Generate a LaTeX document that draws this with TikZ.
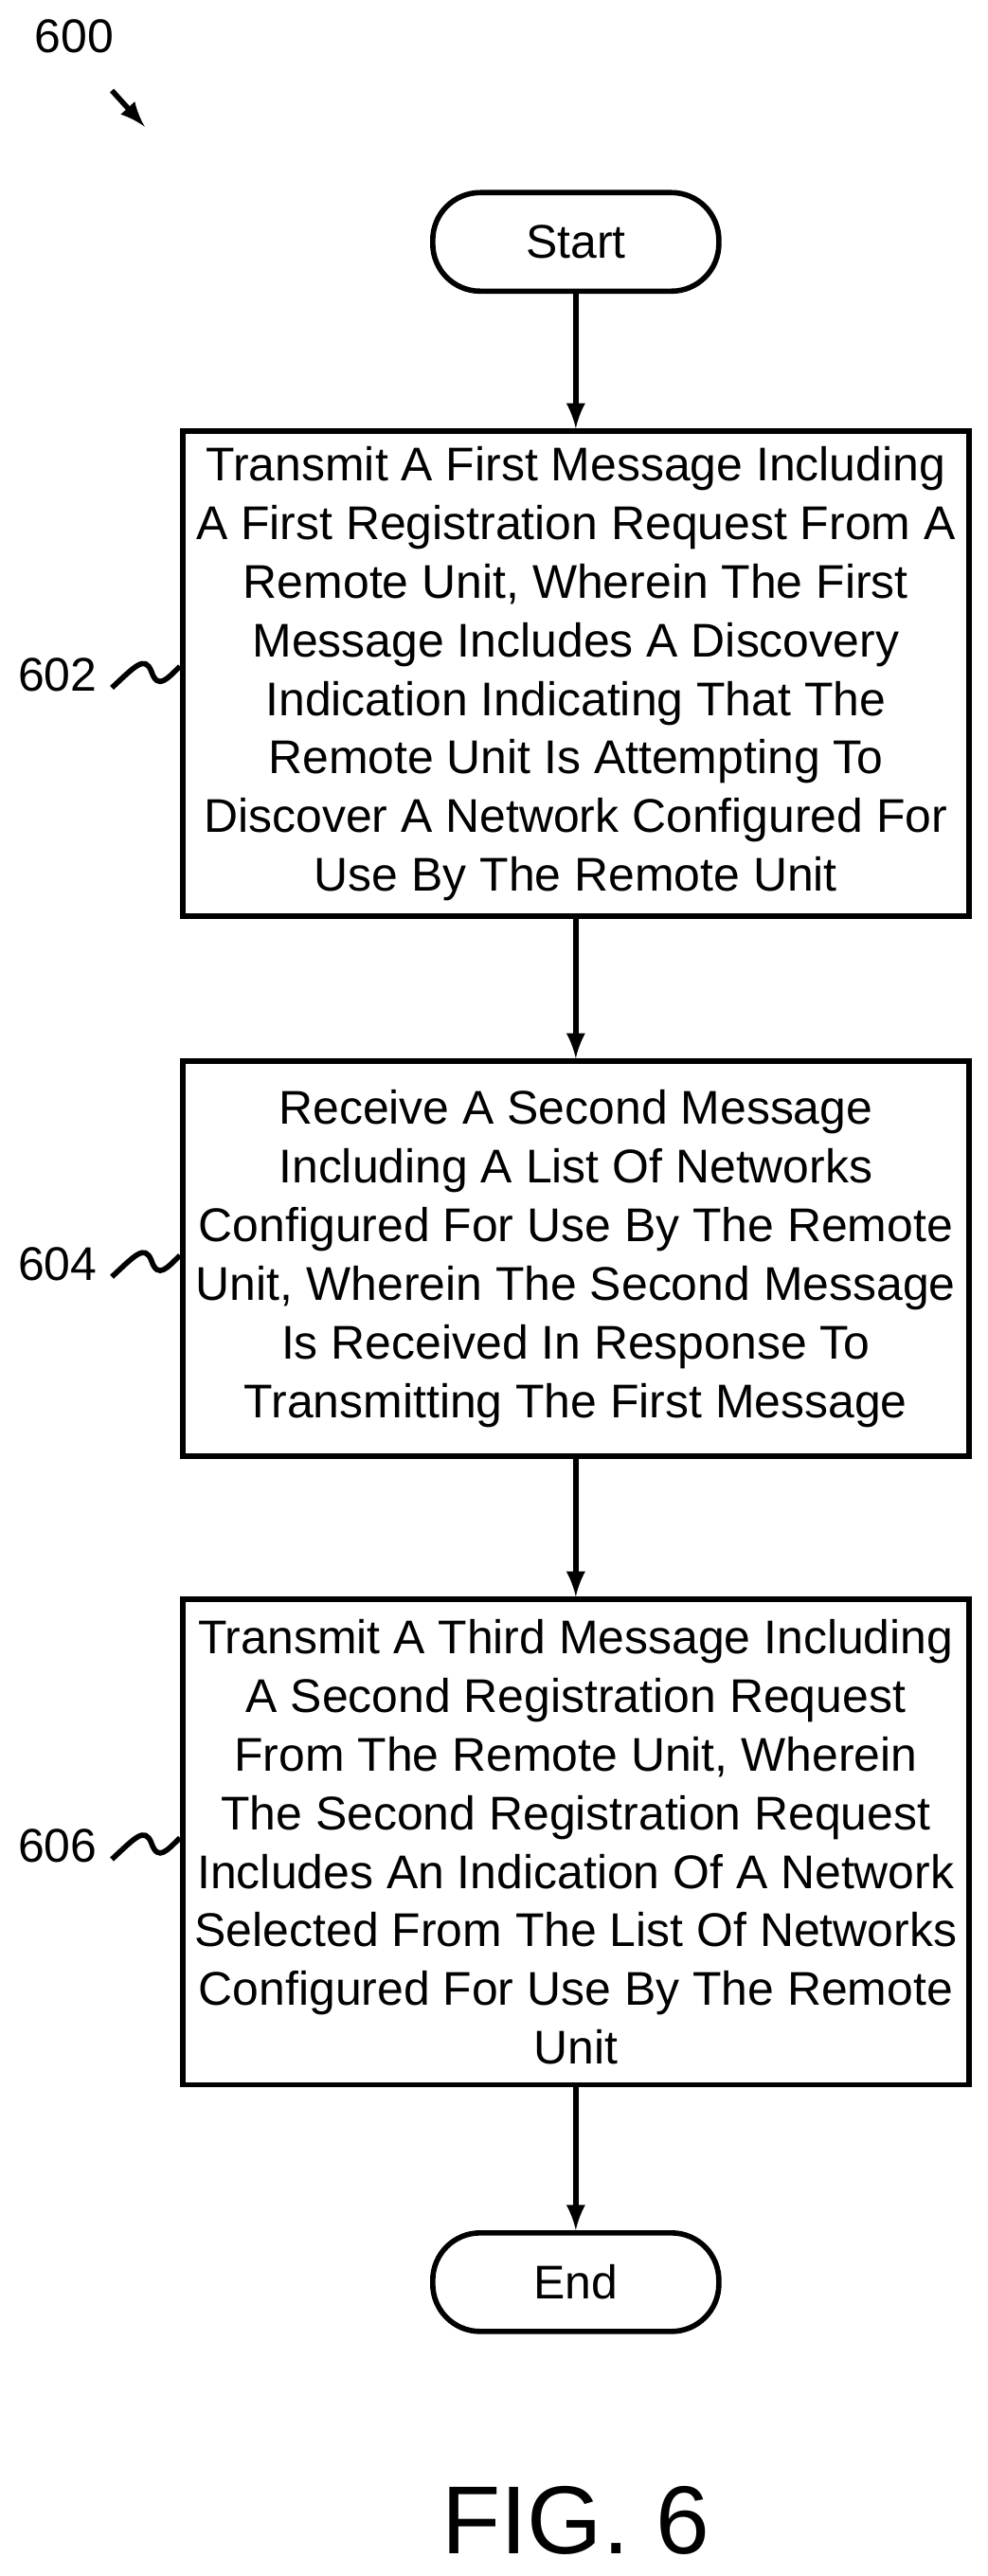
\documentclass[tikz,border=0pt]{standalone}
\usepackage{fontspec}
\setmainfont{Liberation Sans}
\usetikzlibrary{positioning}
\tikzset{
    stepbox/.style={draw, line width=1.6pt, minimum width=8.3cm, align=center, inner sep=2pt,
        font=\fontsize{14.2pt}{17.6pt}\selectfont},
    term/.style={draw, line width=1.6pt, rounded corners=0.5cm, minimum width=3.02cm,
        minimum height=1.04cm, font=\fontsize{14.2pt}{16pt}\selectfont},
    flow/.style={-latex, line width=1.6pt},
    tag/.style={font=\fontsize{14.2pt}{16pt}\selectfont}
}
\begin{document}
\begin{tikzpicture}[x=0.017367cm, y=-0.017367cm]
    \useasboundingbox (0, 0) rectangle (600, 1565.6);

    \node[term] (start) at (350, 147) {Start};
    \node[stepbox, minimum height=5.12cm] (s602) at (350, 409.5) {Transmit A First Message Including\\A First Registration Request From A\\Remote Unit, Wherein The First\\Message Includes A Discovery\\Indication Indicating That The\\Remote Unit Is Attempting To\\Discover A Network Configured For\\Use By The Remote Unit};
    \node[stepbox, minimum height=4.17cm] (s604) at (350, 765) {Receive A Second Message\\Including A List Of Networks\\Configured For Use By The Remote\\Unit, Wherein The Second Message\\Is Received In Response To\\Transmitting The First Message};
    \node[stepbox, minimum height=5.12cm] (s606) at (350, 1119.5) {Transmit A Third Message Including\\A Second Registration Request\\From The Remote Unit, Wherein\\The Second Registration Request\\Includes An Indication Of A Network\\Selected From The List Of Networks\\Configured For Use By The Remote\\Unit};
    \node[term] (end) at (350, 1387) {End};

    \draw[flow] (start) -- (s602);
    \draw[flow] (s602) -- (s604);
    \draw[flow] (s604) -- (s606);
    \draw[flow] (s606) -- (end);

    % reference numerals
    \node[tag] (n600) at (45, 22) {600};
    \coordinate (p600) at (88, 77);
    \draw[-latex, line width=1.6pt] (68, 55) -- (p600);

    \node[tag] (n602) at (35, 410) {602};
    \draw[line width=1.6pt] (68, 418) .. controls (82, 405) and (88, 398) .. (92, 408)
        .. controls (96, 420) and (102, 412) .. (s602.west |- 0, 405);
    \node[tag] (n604) at (35, 768) {604};
    \draw[line width=1.6pt] (68, 776) .. controls (82, 763) and (88, 756) .. (92, 766)
        .. controls (96, 778) and (102, 770) .. (s604.west |- 0, 763);
    \node[tag] (n606) at (35, 1122) {606};
    \draw[line width=1.6pt] (68, 1130) .. controls (82, 1117) and (88, 1110) .. (92, 1120)
        .. controls (96, 1132) and (102, 1124) .. (s606.west |- 0, 1117);

    \node[font=\fontsize{29pt}{32pt}\selectfont] (fig) at (350, 1532) {FIG. 6};
\end{tikzpicture}
\end{document}
